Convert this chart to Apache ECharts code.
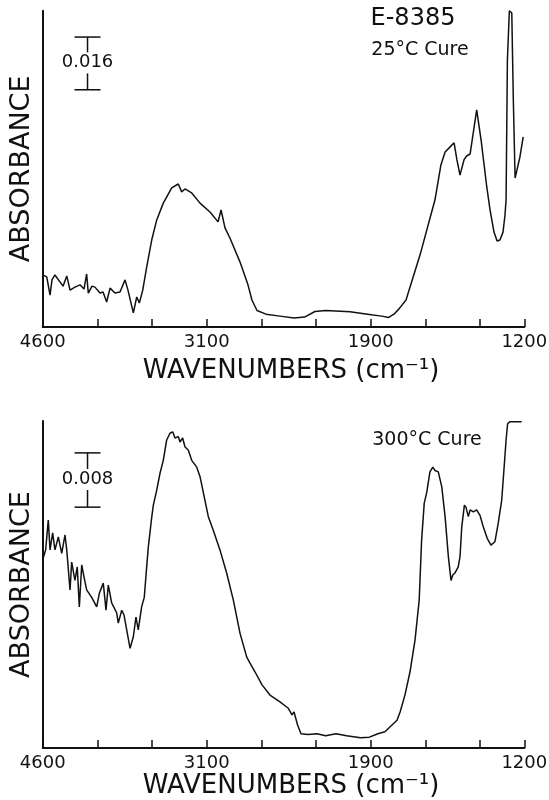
<!DOCTYPE html>
<html>
<head>
<meta charset="utf-8">
<title>E-8385 IR spectra</title>
<script src="https://cdn.jsdelivr.net/npm/echarts@6/dist/echarts.min.js"></script>
<style>
  html, body { margin: 0; padding: 0; background: #fff; }
  #chart { width: 549px; height: 800px; }
</style>
</head>
<body>
<div id="chart"></div>
<script>
  // the wavenumber axis is not linear: labelled wavenumbers sit at these chart divisions
  const tickLabels = [4600, 3100, 1900, 1200];
  const tickDivisions = [0, 3, 6, 8.81];
  const tickMarks = [0, 1, 2, 3, 4, 5, 6, 7, 8, 8.81];

  // 25°C cure spectrum
  const cure25Wavenumbers = [4600, 4563, 4533, 4515, 4488, 4442, 4414, 4380, 4350, 4305,
    4259, 4222, 4198, 4183, 4149, 4122, 4076, 4048, 4015, 3984,
    3939, 3893, 3847, 3820, 3771, 3740, 3716, 3685, 3649, 3603,
    3557, 3497, 3420, 3360, 3329, 3299, 3237, 3161, 3076, 3017,
    2995, 2981, 2966, 2930, 2856, 2798, 2769, 2732, 2666, 2564,
    2461, 2384, 2308, 2230, 2051, 1923, 1850, 1818, 1794, 1771,
    1739, 1675, 1607, 1580, 1561, 1539, 1520, 1507, 1493, 1475,
    1463, 1447, 1417, 1397, 1371, 1356, 1338, 1324, 1311, 1297,
    1288, 1283, 1277, 1268, 1257, 1250, 1242, 1238, 1220, 1205];
  const cure25Absorbance = [0.0158, 0.0152, 0.0097, 0.0143, 0.0158, 0.0137, 0.0124, 0.0155, 0.0112, 0.0121,
    0.0128, 0.0115, 0.0161, 0.0103, 0.0124, 0.0121, 0.0103, 0.0106, 0.0076, 0.0118,
    0.0103, 0.0106, 0.0143, 0.0112, 0.0043, 0.0091, 0.0073, 0.0112, 0.0182, 0.0264,
    0.0325, 0.0376, 0.0422, 0.0434, 0.0410, 0.0419, 0.0407, 0.0376, 0.0349, 0.0319,
    0.0355, 0.0361, 0.0301, 0.0270, 0.0197, 0.0128, 0.0082, 0.0050, 0.0039, 0.0033,
    0.0027, 0.0030, 0.0047, 0.0050, 0.0046, 0.0039, 0.0033, 0.0029, 0.0039, 0.0055,
    0.0082, 0.0219, 0.0386, 0.0492, 0.0531, 0.0546, 0.0559, 0.0507, 0.0461, 0.0507,
    0.0519, 0.0525, 0.0659, 0.0568, 0.0425, 0.0355, 0.0288, 0.0261, 0.0264, 0.0288,
    0.0340, 0.0386, 0.0811, 0.0960, 0.0953, 0.0689, 0.0452, 0.0446, 0.0516, 0.0577];

  // 300°C cure spectrum
  const cure300Wavenumbers = [4600, 4595, 4573, 4549, 4533, 4509, 4488, 4457, 4426, 4396,
    4380, 4350, 4335, 4305, 4284, 4265, 4243, 4222, 4198, 4152,
    4106, 4082, 4046, 4021, 4000, 3969, 3923, 3909, 3877, 3856,
    3801, 3771, 3747, 3726, 3695, 3671, 3649, 3634, 3603, 3588,
    3557, 3527, 3497, 3466, 3436, 3411, 3390, 3360, 3344, 3320,
    3299, 3268, 3237, 3191, 3161, 3116, 3088, 3052, 3003, 2954,
    2905, 2856, 2807, 2783, 2746, 2695, 2637, 2564, 2505, 2476,
    2461, 2435, 2410, 2359, 2293, 2230, 2154, 2076, 1974, 1910,
    1867, 1835, 1803, 1780, 1766, 1744, 1721, 1698, 1679, 1668,
    1656, 1645, 1630, 1617, 1607, 1592, 1576, 1561, 1546, 1534,
    1526, 1516, 1501, 1493, 1485, 1473, 1466, 1455, 1447, 1432,
    1417, 1402, 1387, 1369, 1352, 1334, 1319, 1303, 1293, 1283,
    1276, 1265, 1212];
  const cure300Absorbance = [0.0302, 0.0280, 0.0292, 0.0336, 0.0292, 0.0317, 0.0292, 0.0311, 0.0287, 0.0314,
    0.0292, 0.0233, 0.0274, 0.0247, 0.0267, 0.0208, 0.0270, 0.0252, 0.0233, 0.0222,
    0.0208, 0.0228, 0.0243, 0.0203, 0.0240, 0.0214, 0.0199, 0.0184, 0.0203, 0.0196,
    0.0147, 0.0164, 0.0193, 0.0174, 0.0208, 0.0222, 0.0267, 0.0296, 0.0340, 0.0358,
    0.0380, 0.0405, 0.0424, 0.0454, 0.0464, 0.0466, 0.0457, 0.0459, 0.0451, 0.0457,
    0.0444, 0.0439, 0.0424, 0.0414, 0.0400, 0.0365, 0.0341, 0.0321, 0.0292, 0.0258,
    0.0218, 0.0169, 0.0134, 0.0125, 0.0112, 0.0093, 0.0078, 0.0068, 0.0059, 0.0049,
    0.0053, 0.0034, 0.0021, 0.0020, 0.0021, 0.0018, 0.0021, 0.0018, 0.0015, 0.0016,
    0.0021, 0.0024, 0.0034, 0.0041, 0.0053, 0.0078, 0.0112, 0.0159, 0.0218, 0.0306,
    0.0361, 0.0376, 0.0407, 0.0414, 0.0409, 0.0407, 0.0385, 0.0341, 0.0282, 0.0247,
    0.0255, 0.0258, 0.0267, 0.0282, 0.0326, 0.0358, 0.0355, 0.0341, 0.0351, 0.0348,
    0.0351, 0.0343, 0.0326, 0.0309, 0.0299, 0.0304, 0.0331, 0.0365, 0.0409, 0.0454,
    0.0478, 0.0481, 0.0481];

  // absorbance scale bars: wavenumber, top, bottom, label
  const scaleBar25 = [4190, 0.0880, 0.0720, '0.016'];
  const scaleBar300 = [4190, 0.0435, 0.0355, '0.008'];

  const FONT = 'DejaVu Sans';
  const INK = '#111';

  function wnToDiv(wn) {
    for (let i = 0; i < tickLabels.length - 1; i++) {
      const a = tickLabels[i];
      const b = tickLabels[i + 1];
      if ((wn <= a && wn >= b) || i === tickLabels.length - 2) {
        return tickDivisions[i] + (a - wn) / (a - b) * (tickDivisions[i + 1] - tickDivisions[i]);
      }
    }
  }

  function toPoints(wns, values) {
    return wns.map((wn, i) => [wnToDiv(wn), values[i]]);
  }

  function wnAxis(gridIndex, nameGap) {
    return {
      type: 'value',
      gridIndex: gridIndex,
      min: 0,
      max: tickDivisions[tickDivisions.length - 1],
      name: 'WAVENUMBERS (cm⁻¹)',
      nameLocation: 'middle',
      nameGap: nameGap,
      nameTextStyle: { fontFamily: FONT, fontSize: 26, color: INK, padding: [0, 0, 0, 15] },
      axisLine: { show: true, onZero: false, lineStyle: { color: INK, width: 2 } },
      axisTick: { show: true, inside: true, length: 8, customValues: tickMarks, lineStyle: { color: INK, width: 1.5 } },
      axisLabel: {
        show: true,
        customValues: tickDivisions,
        margin: 6,
        fontFamily: FONT,
        fontSize: 18,
        color: INK,
        formatter: function (v) {
          const i = tickDivisions.findIndex(d => Math.abs(d - v) < 1e-6);
          return i >= 0 ? String(tickLabels[i]) : '';
        },
      },
      splitLine: { show: false },
    };
  }

  function absAxis(gridIndex, max) {
    return {
      type: 'value',
      gridIndex: gridIndex,
      min: 0,
      max: max,
      name: 'ABSORBANCE',
      nameLocation: 'middle',
      nameGap: 7,
      nameTextStyle: { fontFamily: FONT, fontSize: 27, color: INK },
      axisLine: { show: true, onZero: false, lineStyle: { color: INK, width: 2 } },
      axisTick: { show: false },
      axisLabel: { show: false },
      splitLine: { show: false },
    };
  }

  function scaleBarSeries(index, bar) {
    return {
      type: 'custom',
      xAxisIndex: index,
      yAxisIndex: index,
      silent: true,
      data: [[wnToDiv(bar[0]), bar[1], bar[2]]],
      renderItem: function (params, api) {
        const top = api.coord([api.value(0), api.value(1)]);
        const bottom = api.coord([api.value(0), api.value(2)]);
        const x = top[0];
        const mid = (top[1] + bottom[1]) / 2;
        const half = 13;
        const style = { stroke: INK, lineWidth: 1.5 };
        return {
          type: 'group',
          children: [
            { type: 'line', shape: { x1: x - half, y1: top[1], x2: x + half, y2: top[1] }, style: style },
            { type: 'line', shape: { x1: x - half, y1: bottom[1], x2: x + half, y2: bottom[1] }, style: style },
            { type: 'line', shape: { x1: x, y1: top[1], x2: x, y2: mid - 11 }, style: style },
            { type: 'line', shape: { x1: x, y1: mid + 10, x2: x, y2: bottom[1] }, style: style },
            {
              type: 'text',
              x: x, y: mid - 1,
              style: { text: bar[3], fill: INK, font: '18px ' + FONT, align: 'center', verticalAlign: 'middle' },
            },
          ],
        };
      },
    };
  }

  function spectrum(index, wns, values) {
    return {
      type: 'line',
      xAxisIndex: index,
      yAxisIndex: index,
      data: toPoints(wns, values),
      showSymbol: false,
      symbol: 'none',
      lineStyle: { color: INK, width: 1.5 },
      silent: true,
    };
  }

  const chart = echarts.init(document.getElementById('chart'));
  chart.setOption({
    animation: false,
    backgroundColor: '#fff',
    grid: [
      { left: 42.7, right: 24.7, top: 10.7, height: 316.3, containLabel: false, outerBoundsMode: 'none' },
      { left: 42.7, right: 24.7, top: 421, height: 327, containLabel: false, outerBoundsMode: 'none' },
    ],
    xAxis: [wnAxis(0, 31), wnAxis(1, 24)],
    yAxis: [absAxis(0, 0.096), absAxis(1, 0.0482)],
    graphic: [
      { type: 'text', x: 413, y: 19, style: { text: 'E-8385', fill: INK, font: '24px ' + FONT, align: 'center', verticalAlign: 'middle' } },
      { type: 'text', x: 420, y: 50, style: { text: '25°C Cure', fill: INK, font: '19px ' + FONT, align: 'center', verticalAlign: 'middle' } },
      { type: 'text', x: 427, y: 440, style: { text: '300°C Cure', fill: INK, font: '19px ' + FONT, align: 'center', verticalAlign: 'middle' } },
    ],
    series: [
      spectrum(0, cure25Wavenumbers, cure25Absorbance),
      spectrum(1, cure300Wavenumbers, cure300Absorbance),
      scaleBarSeries(0, scaleBar25),
      scaleBarSeries(1, scaleBar300),
    ],
  });
  window.addEventListener('resize', chart.resize);
</script>
</body>
</html>
